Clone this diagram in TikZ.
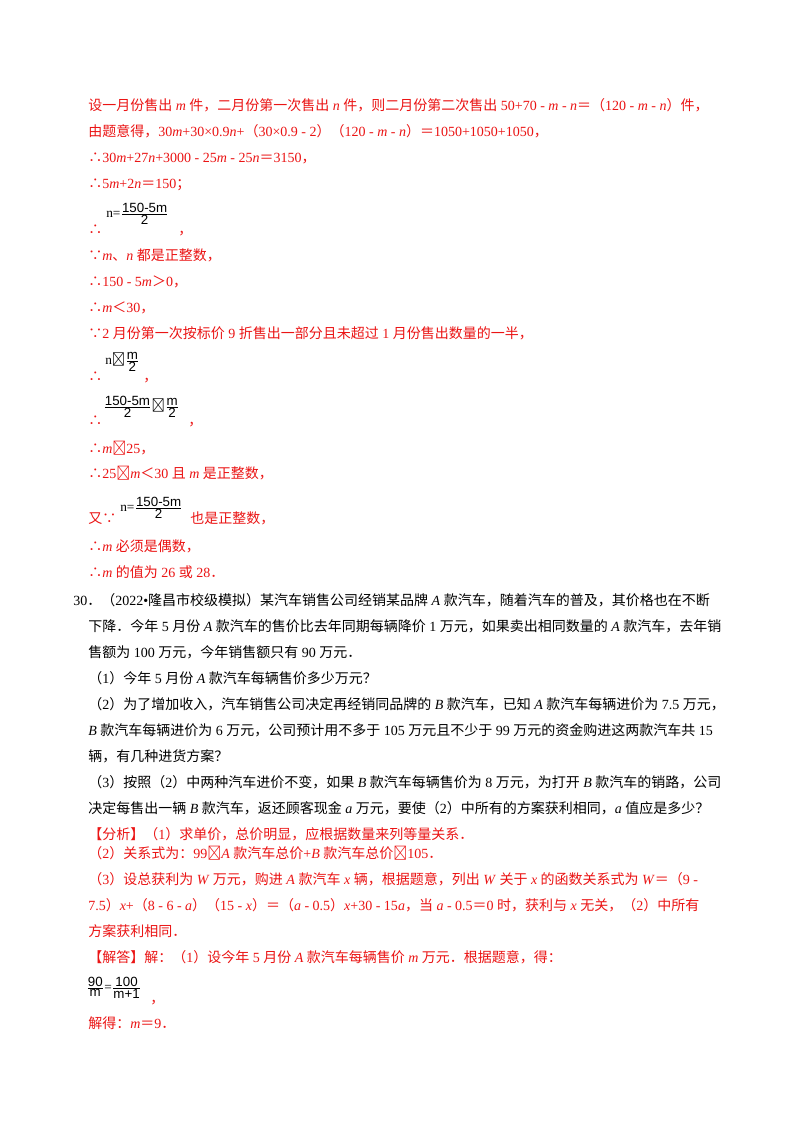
\documentclass[tikz,border=0pt]{standalone}
\usepackage{amsmath}
\usepackage{fontspec}
\setmainfont{Liberation Serif}
\setsansfont{Liberation Sans}
\newfontfamily\cjk{Noto Sans CJK SC}
\XeTeXinterchartokenstate=1
\newXeTeXintercharclass\cjkclass
\newcount\cc
\def\setrange#1#2{\cc=#1\relax\loop\XeTeXcharclass\cc=\cjkclass\ifnum\cc<#2\advance\cc 1\repeat}
\setrange{"4E00}{"9FFF}
\setrange{"3000}{"303F}
\setrange{"FF00}{"FFEF}
\XeTeXcharclass"2234=\cjkclass
\XeTeXcharclass"2235=\cjkclass
\XeTeXcharclass"2264=\cjkclass
\XeTeXcharclass"2265=\cjkclass
\XeTeXcharclass"2A7D=\cjkclass
\XeTeXcharclass"2A7E=\cjkclass
\XeTeXinterchartoks 0 \cjkclass={\begingroup\cjk}
\XeTeXinterchartoks 4095 \cjkclass={\begingroup\cjk}
\XeTeXinterchartoks \cjkclass 0={\endgroup}
\XeTeXinterchartoks \cjkclass 4095={\endgroup}
\newcommand\iv[1]{\textit{#1}}
\newcommand\fr[2]{$\genfrac{}{}{0.5pt}{}{\hbox{\sffamily #1}}{\hbox{\sffamily #2}}$}
\definecolor{ans}{RGB}{235,20,20}
\begin{document}
\begin{tikzpicture}[x=0.75pt,y=-0.75pt,
  ln/.style={anchor=base west,inner sep=0pt,font=\fontsize{10.5}{12}\selectfont},
  rd/.style={ln,text=ans},
  bk/.style={ln,text=black},
  fn/.style={anchor=west,inner sep=0pt,font=\fontsize{10}{12}\selectfont,text=black}]
\useasboundingbox (0,0) rectangle (800,1132);
\fill[white] (0,0) rectangle (800,1132);
\node[rd] (l1) at (88,110) {设一月份售出 \iv{m} 件，二月份第一次售出 \iv{n} 件，则二月份第二次售出 50+70 - \iv{m} - \iv{n}＝（120 - \iv{m} - \iv{n}）件，};
\node[rd] (l2) at (88,136) {由题意得，30\iv{m}+30×0.9\iv{n}+（30×0.9 - 2）（120 - \iv{m} - \iv{n}）＝1050+1050+1050，};
\node[rd] (l3) at (88,162) {∴30\iv{m}+27\iv{n}+3000 - 25\iv{m} - 25\iv{n}＝3150，};
\node[rd] (l4) at (88,188) {∴5\iv{m}+2\iv{n}＝150；};
\node[rd] (l5) at (88,234) {∴};
\node[fn] (f5) at (106,214) {n=\fr{150-5m}{2}};
\node[rd] (c5) at (178,234) {，};
\node[rd] (l6) at (88,260) {∵\iv{m}、\iv{n} 都是正整数，};
\node[rd] (l7) at (88,286) {∴150 - 5\iv{m}＞0，};
\node[rd] (l8) at (88,312) {∴\iv{m}＜30，};
\node[rd] (l9) at (88,338) {∵2 月份第一次按标价 9 折售出一部分且未超过 1 月份售出数量的一半，};
\node[rd] (l10) at (88,381) {∴};
\node[fn] (f10) at (105,362) {n⩽\fr{m}{2}};
\node[rd] (c10) at (143,381) {，};
\node[rd] (l11) at (88,425) {∴};
\node[fn] (f11) at (103,407) {\fr{150-5m}{2}⩽\fr{m}{2}};
\node[rd] (c11) at (188,425) {，};
\node[rd] (l12) at (88,453) {∴\iv{m}⩾25，};
\node[rd] (l13) at (88,478) {∴25⩽\iv{m}＜30 且 \iv{m} 是正整数，};
\node[rd] (l14) at (88,523) {又∵};
\node[fn] (f14) at (120,508) {n=\fr{150-5m}{2}};
\node[rd] (c14) at (190,523) {也是正整数，};
\node[rd] (l15) at (88,551) {∴\iv{m} 必须是偶数，};
\node[rd] (l16) at (88,577) {∴\iv{m} 的值为 26 或 28．};
\node[bk] (p1) at (73,605) {30．（2022•隆昌市校级模拟）某汽车销售公司经销某品牌 \iv{A} 款汽车，随着汽车的普及，其价格也在不断};
\node[bk] (p2) at (88,631) {下降．今年 5 月份 \iv{A} 款汽车的售价比去年同期每辆降价 1 万元，如果卖出相同数量的 \iv{A} 款汽车，去年销};
\node[bk] (p3) at (88,657) {售额为 100 万元，今年销售额只有 90 万元．};
\node[bk] (p4) at (88,683) {（1）今年 5 月份 \iv{A} 款汽车每辆售价多少万元？};
\node[bk] (p5) at (88,709) {（2）为了增加收入，汽车销售公司决定再经销同品牌的 \iv{B} 款汽车，已知 \iv{A} 款汽车每辆进价为 7.5 万元，};
\node[bk] (p6) at (88,735) {\iv{B} 款汽车每辆进价为 6 万元，公司预计用不多于 105 万元且不少于 99 万元的资金购进这两款汽车共 15};
\node[bk] (p7) at (88,761) {辆，有几种进货方案？};
\node[bk] (p8) at (88,787) {（3）按照（2）中两种汽车进价不变，如果 \iv{B} 款汽车每辆售价为 8 万元，为打开 \iv{B} 款汽车的销路，公司};
\node[bk] (p9) at (88,813) {决定每售出一辆 \iv{B} 款汽车，返还顾客现金 \iv{a} 万元，要使（2）中所有的方案获利相同，\iv{a} 值应是多少？};
\node[rd] (a1) at (88,839) {【分析】（1）求单价，总价明显，应根据数量来列等量关系．};
\node[rd] (a2) at (88,858) {（2）关系式为：99⩽\iv{A} 款汽车总价+\iv{B} 款汽车总价⩽105．};
\node[rd] (a3) at (88,884) {（3）设总获利为 \iv{W} 万元，购进 \iv{A} 款汽车 \iv{x} 辆，根据题意，列出 \iv{W} 关于 \iv{x} 的函数关系式为 \iv{W}＝（9 -};
\node[rd] (a4) at (88,910) {7.5）\iv{x}+（8 - 6 - \iv{a}）（15 - \iv{x}）＝（\iv{a} - 0.5）\iv{x}+30 - 15\iv{a}，当 \iv{a} - 0.5＝0 时，获利与 \iv{x} 无关，（2）中所有};
\node[rd] (a5) at (88,936) {方案获利相同．};
\node[rd] (a6) at (88,962) {【解答】解：（1）设今年 5 月份 \iv{A} 款汽车每辆售价 \iv{m} 万元．根据题意，得：};
\node[fn] (f7) at (86,988) {\fr{90}{m}=\fr{100}{m+1}};
\node[rd] (c7) at (150,1003) {，};
\node[rd] (a8) at (88,1028) {解得：\iv{m}＝9．};
\end{tikzpicture}
\end{document}
